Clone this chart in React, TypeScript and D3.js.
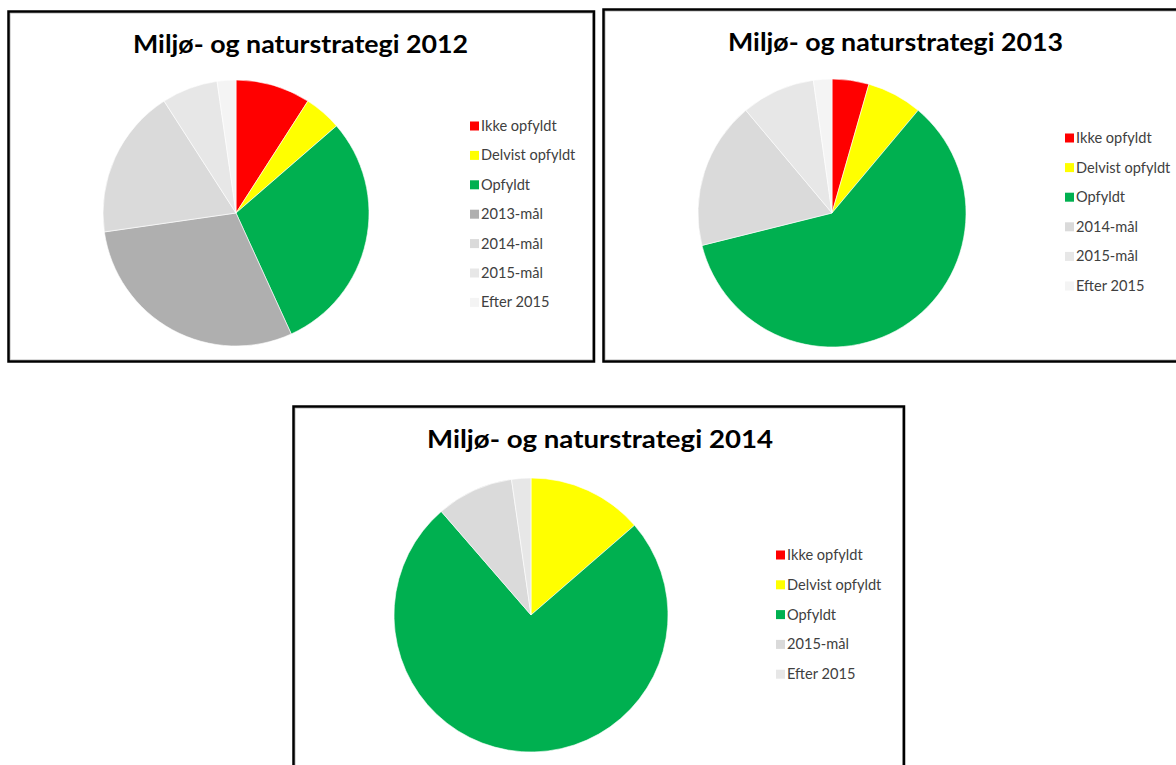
import React, { useEffect, useRef } from 'react'
import * as d3 from 'd3'

// data (number of goals per status)
const title2012 = 'Miljø- og naturstrategi 2012'
const categories2012 = ['Ikke opfyldt', 'Delvist opfyldt', 'Opfyldt', '2013-mål', '2014-mål', '2015-mål', 'Efter 2015']
const values2012 = [4, 2, 13, 13, 8, 3, 1]

const title2013 = 'Miljø- og naturstrategi 2013'
const categories2013 = ['Ikke opfyldt', 'Delvist opfyldt', 'Opfyldt', '2014-mål', '2015-mål', 'Efter 2015']
const values2013 = [2, 3, 27, 8, 4, 1]

const title2014 = 'Miljø- og naturstrategi 2014'
const categories2014 = ['Ikke opfyldt', 'Delvist opfyldt', 'Opfyldt', '2015-mål', 'Efter 2015']
const values2014 = [0, 6, 33, 4, 1]

const statusColors = ['#ff0000', '#ffff00', '#00b050']
const greys = ['#afafaf', '#dadada', '#e7e7e7', '#f4f4f4']

const W = 1176
const H = 765

type Panel = {
  title: string
  categories: string[]
  values: number[]
  box: { x: number; y: number; w: number; h: number }
  title_: { cx: number; y: number; len: number }
  pie: { cx: number; cy: number; r: number }
  legend: { x: number; y: number; step: number }
}

const panels: Panel[] = [
  {
    title: title2012,
    categories: categories2012,
    values: values2012,
    box: { x: 8.5, y: 11.5, w: 585.5, h: 350 },
    title_: { cx: 300.5, y: 53, len: 335 },
    pie: { cx: 236, cy: 213, r: 133 },
    legend: { x: 470, y: 126, step: 29.4 },
  },
  {
    title: title2013,
    categories: categories2013,
    values: values2013,
    box: { x: 603.5, y: 9.5, w: 600, h: 352 },
    title_: { cx: 895.5, y: 51, len: 335 },
    pie: { cx: 832, cy: 213, r: 134 },
    legend: { x: 1065, y: 138, step: 29.6 },
  },
  {
    title: title2014,
    categories: categories2014,
    values: values2014,
    box: { x: 293.5, y: 406.5, w: 610.5, h: 400 },
    title_: { cx: 600, y: 448, len: 346 },
    pie: { cx: 531, cy: 615, r: 137 },
    legend: { x: 776, y: 555, step: 29.8 },
  },
]

const colorFor = (cats: string[]) => {
  const nGrey = cats.length - 3
  const offset = nGrey >= 4 ? 0 : 1
  return (i: number) => (i < 3 ? statusColors[i] : greys[i - 3 + offset])
}

const App = () => {
  const ref = useRef<SVGSVGElement>(null)

  useEffect(() => {
    const svg = d3.select(ref.current)
    svg.selectAll('*').remove()
    svg.append('rect').attr('width', W).attr('height', H).attr('fill', 'white')

    panels.forEach((p) => {
      const g = svg.append('g')
      const color = colorFor(p.categories)

      // frame: black outer border with thin grey inner line
      g.append('rect')
        .attr('x', p.box.x + 1.5)
        .attr('y', p.box.y + 1.5)
        .attr('width', p.box.w - 3)
        .attr('height', p.box.h - 3)
        .attr('fill', 'none')
        .attr('stroke', '#b4b4b4')
        .attr('stroke-width', 1)
      g.append('rect')
        .attr('x', p.box.x)
        .attr('y', p.box.y)
        .attr('width', p.box.w)
        .attr('height', p.box.h)
        .attr('fill', 'none')
        .attr('stroke', '#000')
        .attr('stroke-width', 2.5)

      // title
      g.append('text')
        .attr('x', p.title_.cx)
        .attr('y', p.title_.y)
        .attr('text-anchor', 'middle')
        .attr('font-family', 'Lato, "Open Sans", sans-serif')
        .attr('font-weight', 'bold')
        .attr('font-size', 25)
        .attr('textLength', p.title_.len)
        .attr('lengthAdjust', 'spacingAndGlyphs')
        .attr('fill', '#000')
        .text(p.title)

      // pie
      const pie = d3.pie<number>().sort(null).value((d) => d)
      const arc = d3.arc<d3.PieArcDatum<number>>().innerRadius(0).outerRadius(p.pie.r)
      g.append('g')
        .attr('transform', `translate(${p.pie.cx}, ${p.pie.cy})`)
        .selectAll('path')
        .data(pie(p.values))
        .enter()
        .append('path')
        .attr('d', arc)
        .attr('fill', (d, i) => color(i))
        .attr('stroke', (d) => (d.value > 0 ? '#fff' : 'none'))
        .attr('stroke-width', 0.6)

      // legend
      const legend = g
        .append('g')
        .selectAll('g')
        .data(p.categories)
        .enter()
        .append('g')
        .attr('transform', (d, i) => `translate(${p.legend.x}, ${p.legend.y + i * p.legend.step})`)
      legend
        .append('rect')
        .attr('x', 0)
        .attr('y', -4.5)
        .attr('width', 9)
        .attr('height', 9)
        .attr('fill', (d, i) => color(i))
      legend
        .append('text')
        .attr('x', 11)
        .attr('y', 5)
        .attr('font-family', 'Lato, "Open Sans", sans-serif')
        .attr('font-size', 14.6)
        .attr('fill', '#404040')
        .text((d) => d)
    })
  }, [])

  return (
    <div style={{ position: 'absolute', left: 0, top: 0, width: W, height: H, overflow: 'hidden' }}>
      <svg ref={ref} width={W} height={H} style={{ display: 'block' }} />
    </div>
  )
}

export default App
